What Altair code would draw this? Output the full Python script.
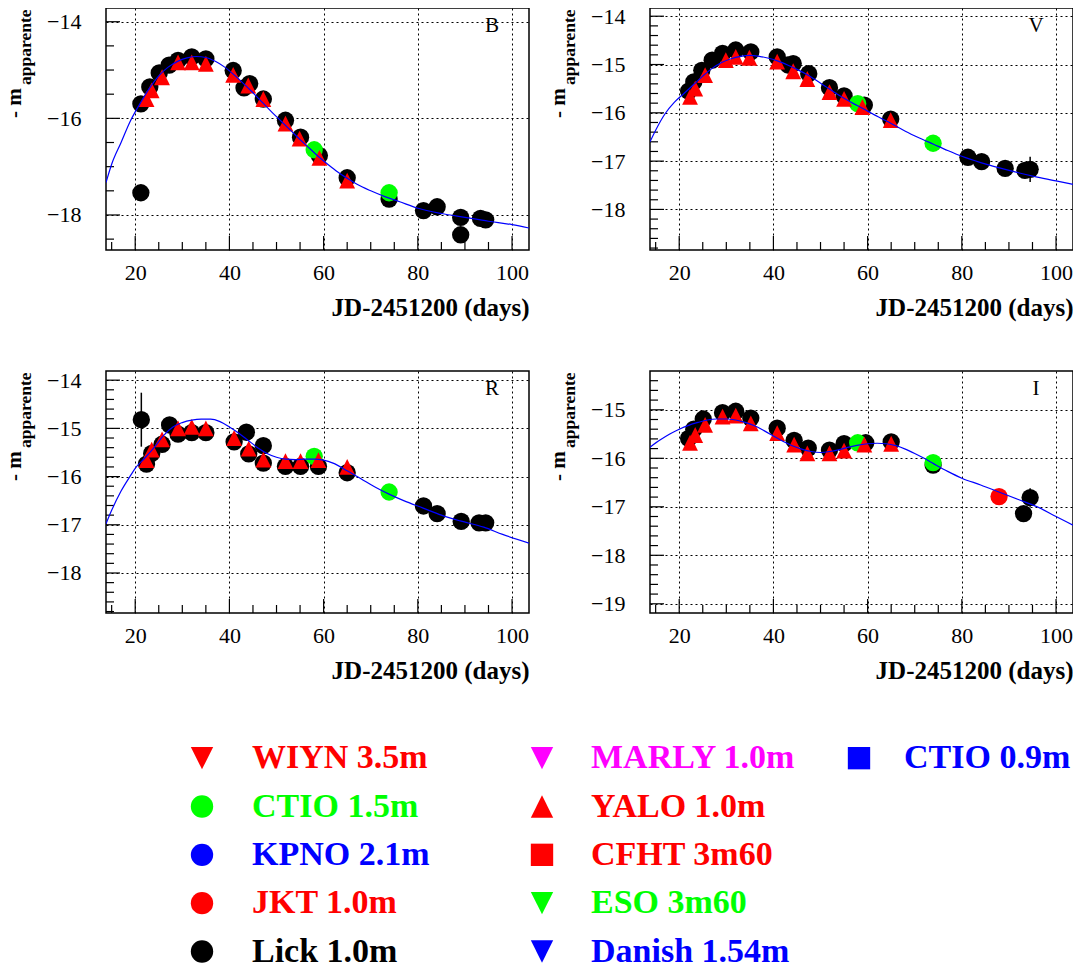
import altair as alt
import numpy as np
import pandas as pd

FONT = "Liberation Serif"
BLACK, RED, GREEN, BLUE, MAGENTA = "#000000", "#ff0000", "#00ff00", "#0000ff", "#ff00ff"
TRI_UP = "M0,-1L1,1L-1,1Z"
TRI_DOWN = "M-1,-1L1,-1L0,1Z"

X_DOMAIN = [13.8, 103.6]
X_MAJOR = [20, 40, 60, 80, 100]
X_MINOR = [15, 25, 30, 35, 45, 50, 55, 65, 70, 75, 85, 90, 95]
X_TITLE = "JD-2451200 (days)"

# ---------------- B band ----------------
B_lick_t = [21.2, 21.2, 23.1, 25.1, 27.2, 29.1, 32.0, 35.0, 40.8, 43.1, 44.3, 47.2, 51.9, 55.1, 59.1, 65.0, 73.9, 81.2, 84.1, 89.1, 89.1, 93.3, 94.4]
B_lick_m = [-15.70, -17.54, -15.35, -15.06, -14.90, -14.80, -14.73, -14.77, -15.01, -15.37, -15.28, -15.60, -16.04, -16.39, -16.77, -17.23, -17.67, -17.91, -17.83, -18.05, -18.41, -18.07, -18.10]
B_yalo_t = [22.4, 23.5, 25.7, 29.1, 32.0, 35.0, 40.8, 44.0, 47.2, 51.9, 54.9, 59.1, 65.0]
B_yalo_m = [-15.60, -15.42, -15.15, -14.84, -14.84, -14.87, -15.10, -15.32, -15.60, -16.11, -16.42, -16.82, -17.29]
B_ctio_t = [58.0, 73.9]
B_ctio_m = [-16.65, -17.54]
B_fit_t = [13.8, 15, 17, 19, 21, 23, 25, 27, 29, 31, 33, 35, 37, 39, 41, 43, 45, 47, 49, 51, 53, 55, 57, 59, 61, 63, 65, 67, 70, 73, 76, 80, 85, 90, 95, 100, 103.6]
B_fit_m = [-17.33, -16.95, -16.5, -16.05, -15.7, -15.38, -15.12, -14.94, -14.82, -14.75, -14.72, -14.74, -14.82, -14.94, -15.1, -15.28, -15.47, -15.67, -15.87, -16.06, -16.25, -16.44, -16.62, -16.8, -16.96, -17.11, -17.24, -17.36, -17.5, -17.62, -17.72, -17.86, -17.97, -18.05, -18.13, -18.2, -18.27]

# ---------------- V band ----------------
V_lick_t = [22.0, 23.1, 24.8, 27.0, 29.2, 32.0, 35.2, 40.8, 43.1, 44.2, 47.5, 51.9, 55.0, 59.3, 64.9, 81.3, 84.2, 89.2, 93.4, 94.5]
V_lick_m = [-15.55, -15.36, -15.12, -14.91, -14.77, -14.70, -14.74, -14.84, -15.01, -14.98, -15.19, -15.48, -15.65, -15.84, -16.13, -16.92, -17.01, -17.15, -17.19, -17.17]
V_yalo_t = [22.3, 23.4, 25.5, 29.9, 32.0, 34.9, 40.8, 44.2, 47.2, 51.9, 55.0, 58.9, 64.9]
V_yalo_m = [-15.67, -15.50, -15.22, -14.91, -14.84, -14.86, -14.94, -15.14, -15.30, -15.57, -15.71, -15.88, -16.15]
V_ctio_t = [57.9, 73.9]
V_ctio_m = [-15.81, -16.63]
V_err_t = [94.5]
V_err_lo = [-17.43]
V_err_hi = [-16.91]
V_fit_t = [13.8, 15, 17, 19, 21, 23, 25, 27, 29, 31, 33, 35, 37, 39, 41, 43, 45, 47, 49, 51, 53, 55, 57, 59, 61, 63, 65, 68, 71, 74, 77, 80, 84, 88, 92, 96, 100, 103.6]
V_fit_m = [-16.6, -16.36, -16.02, -15.78, -15.6, -15.42, -15.24, -15.08, -14.96, -14.88, -14.83, -14.81, -14.83, -14.87, -14.93, -15.01, -15.1, -15.2, -15.32, -15.45, -15.58, -15.7, -15.81, -15.91, -16.02, -16.12, -16.22, -16.38, -16.52, -16.65, -16.78, -16.9, -17.03, -17.14, -17.24, -17.33, -17.41, -17.48]

# ---------------- R band ----------------
R_lick_t = [21.3, 22.4, 23.5, 25.7, 27.3, 29.1, 32.0, 35.0, 41.0, 43.6, 44.1, 47.2, 47.2, 51.9, 55.1, 58.9, 65.0, 81.2, 84.1, 89.2, 93.0, 94.4]
R_lick_m = [-14.82, -15.74, -15.52, -15.33, -14.93, -15.12, -15.09, -15.09, -15.28, -15.08, -15.53, -15.36, -15.72, -15.79, -15.79, -15.79, -15.92, -16.61, -16.77, -16.93, -16.96, -16.96]
R_yalo_t = [22.4, 23.5, 25.7, 29.1, 32.0, 35.0, 41.0, 44.1, 47.2, 51.9, 55.1, 58.9, 65.0]
R_yalo_m = [-15.66, -15.44, -15.23, -15.00, -14.97, -15.00, -15.20, -15.42, -15.65, -15.68, -15.68, -15.66, -15.80]
R_ctio_t = [58.0, 73.9]
R_ctio_m = [-15.58, -16.32]
R_err_t = [21.3]
R_err_lo = [-15.38]
R_err_hi = [-14.26]
R_fit_t = [13.8, 15, 17, 19, 20, 22, 24, 26, 28, 30, 32, 34, 36, 38, 40, 42, 44, 46, 48, 50, 52, 54, 56, 58, 60, 62, 65, 68, 71, 74, 77, 81, 85, 89, 94, 98, 103.6]
R_fit_m = [-16.98, -16.7, -16.3, -15.98, -15.83, -15.62, -15.4, -15.15, -14.97, -14.88, -14.83, -14.81, -14.81, -14.86, -14.97, -15.1, -15.25, -15.4, -15.52, -15.6, -15.64, -15.65, -15.64, -15.64, -15.66, -15.72, -15.88, -16.05, -16.22, -16.37, -16.5, -16.65, -16.8, -16.92, -17.05, -17.2, -17.38]

# ---------------- I band ----------------
I_lick_t = [22.0, 23.1, 25.1, 29.2, 32.0, 35.2, 40.8, 44.4, 47.4, 51.9, 55.0, 59.6, 65.0, 73.9, 93.1, 94.5]
I_lick_m = [-15.59, -15.40, -15.19, -15.06, -15.03, -15.17, -15.38, -15.63, -15.79, -15.83, -15.70, -15.68, -15.66, -16.14, -17.14, -16.81]
I_yalo_t = [22.3, 23.4, 25.5, 29.2, 32.0, 35.2, 40.8, 44.4, 47.2, 51.9, 55.0, 59.3, 65.0]
I_yalo_m = [-15.68, -15.52, -15.31, -15.14, -15.12, -15.28, -15.48, -15.72, -15.90, -15.90, -15.84, -15.72, -15.70]
I_ctio_t = [57.9, 73.9]
I_ctio_m = [-15.68, -16.09]
I_jkt_t = [87.9]
I_jkt_m = [-16.79]
I_err_t = [94.5]
I_err_lo = [-17.0]
I_err_hi = [-16.62]
I_fit_t = [13.8, 16, 18, 20, 22, 24, 26, 28, 30, 32, 34, 36, 38, 40, 42, 44, 46, 48, 50, 52, 54, 56, 58, 60, 62, 64, 66, 68, 70, 72, 74, 77, 80, 84, 88, 92, 96, 100, 103.6]
I_fit_m = [-15.77, -15.62, -15.5, -15.4, -15.32, -15.26, -15.21, -15.19, -15.19, -15.21, -15.26, -15.33, -15.43, -15.54, -15.65, -15.74, -15.81, -15.86, -15.88, -15.86, -15.82, -15.77, -15.73, -15.7, -15.69, -15.7, -15.74, -15.81, -15.9, -16.0, -16.11, -16.27, -16.41, -16.55, -16.7, -16.85, -17.0, -17.2, -17.38]

# ---------------- legend ----------------
LEG_NAMES = ["WIYN 3.5m", "CTIO 1.5m", "KPNO 2.1m", "JKT 1.0m", "Lick 1.0m",
             "MARLY 1.0m", "YALO 1.0m", "CFHT 3m60", "ESO 3m60", "Danish 1.54m",
             "CTIO 0.9m"]
LEG_COLORS = [RED, GREEN, BLUE, RED, BLACK, MAGENTA, RED, RED, GREEN, BLUE, BLUE]
LEG_SHAPES = [TRI_DOWN, "circle", "circle", "circle", "circle",
              TRI_DOWN, TRI_UP, "square", TRI_DOWN, TRI_DOWN, "square"]
LEG_COL = [0, 0, 0, 0, 0, 1, 1, 1, 1, 1, 2]
LEG_ROW = [0, 1, 2, 3, 4, 0, 1, 2, 3, 4, 0]

W, H = 423, 242


def ticks(lo, hi, step):
    n = int(round((hi - lo) / step))
    return [round(lo + i * step, 2) for i in range(n + 1)]


def panel(band, ydom, ymajor, yminor, lick, ctio, yalo, jkt, err, fit):
    xs = alt.Scale(domain=X_DOMAIN, nice=False, zero=False)
    ys = alt.Scale(domain=ydom, nice=False, zero=False)
    xax = alt.Axis(values=X_MAJOR, grid=True, gridColor=BLACK, gridDash=[2, 3], gridWidth=1,
                   gridOpacity=1, domain=False, ticks=False, tickSize=0,
                   labelFont=FONT, labelFontSize=22, labelColor=BLACK, labelPadding=22,
                   labelBaseline="middle", labelFlush=False, labelOverlap=False,
                   title=X_TITLE, titleFont=FONT, titleFontSize=25, titleFontWeight="bold",
                   titleColor=BLACK, titleX=W, titleY=65, titleAlign="right",
                   titleBaseline="alphabetic")
    yax = alt.Axis(values=ymajor, grid=True, gridColor=BLACK, gridDash=[2, 3], gridWidth=1,
                   gridOpacity=1, domain=False, ticks=False, tickSize=0,
                   labelFont=FONT, labelFontSize=22, labelColor=BLACK, labelPadding=25,
                   labelBaseline="middle", labelFlush=False, labelOverlap=False, title="")
    X = alt.X("t:Q", scale=xs, axis=xax)
    Y = alt.Y("m:Q", scale=ys, axis=yax)

    layers = []
    # frame ticks (inside the frame)
    ymaj_df = pd.DataFrame({"m": ymajor})
    ymin_df = pd.DataFrame({"m": [v for v in yminor if v not in ymajor]})
    layers.append(alt.Chart(ymaj_df).mark_rule(color=BLACK, strokeWidth=1.2).encode(
        y=Y, x=alt.value(0), x2=alt.value(14)))
    layers.append(alt.Chart(ymin_df).mark_rule(color=BLACK, strokeWidth=1.2).encode(
        y=Y, x=alt.value(0), x2=alt.value(8)))
    layers.append(alt.Chart(pd.DataFrame({"t": X_MAJOR})).mark_rule(color=BLACK, strokeWidth=1.2).encode(
        x=X, y=alt.value(H), y2=alt.value(H - 14)))
    layers.append(alt.Chart(pd.DataFrame({"t": X_MINOR})).mark_rule(color=BLACK, strokeWidth=1.2).encode(
        x=X, y=alt.value(H), y2=alt.value(H - 8)))

    # error bars
    if err is not None:
        edf = pd.DataFrame({"t": err[0], "m": err[1], "m2": err[2]})
        layers.append(alt.Chart(edf).mark_rule(color=BLACK, strokeWidth=1.5).encode(
            x=X, y=Y, y2=alt.Y2("m2")))

    def pts(data, shape, color, size):
        df = pd.DataFrame({"t": data[0], "m": data[1]})
        return alt.Chart(df).mark_point(shape=shape, filled=True, size=size, color=color,
                                        opacity=1, strokeWidth=0).encode(x=X, y=Y)

    layers.append(pts(lick, "circle", BLACK, 300))
    layers.append(pts(ctio, "circle", GREEN, 300))
    if jkt is not None:
        layers.append(pts(jkt, "circle", RED, 300))
    layers.append(pts(yalo, TRI_UP, RED, 250))

    fdf = pd.DataFrame({"t": fit[0], "m": fit[1]})
    layers.append(alt.Chart(fdf).mark_line(color=BLUE, strokeWidth=1.2, clip=True,
                                           interpolate="monotone").encode(x=X, y=Y))

    # band label
    layers.append(alt.Chart(pd.DataFrame({"s": [band]})).mark_text(
        font=FONT, fontSize=21, color=BLACK, align="center", baseline="middle").encode(
        text="s:N", x=alt.value(386), y=alt.value(18)))
    # y title "- m_apparente"
    layers.append(alt.Chart(pd.DataFrame({"s": ["- m"]})).mark_text(
        angle=270, align="left", baseline="alphabetic", font=FONT, fontSize=21,
        fontWeight="bold", color=BLACK).encode(text="s:N", x=alt.value(-85), y=alt.value(110)))
    layers.append(alt.Chart(pd.DataFrame({"s": ["apparente"]})).mark_text(
        angle=270, align="left", baseline="alphabetic", font=FONT, fontSize=17.5,
        fontWeight="bold", color=BLACK).encode(text="s:N", x=alt.value(-75), y=alt.value(77)))

    return alt.layer(*layers).properties(width=W, height=H)


pB = panel("B", [-18.725, -13.716], [-18, -16, -14], ticks(-18.5, -14.0, 0.5),
           (B_lick_t, B_lick_m), (B_ctio_t, B_ctio_m), (B_yalo_t, B_yalo_m), None, None,
           (B_fit_t, B_fit_m))
pV = panel("V", [-18.84, -13.83], [-18, -17, -16, -15, -14], ticks(-18.8, -14.0, 0.2),
           (V_lick_t, V_lick_m), (V_ctio_t, V_ctio_m), (V_yalo_t, V_yalo_m), None,
           (V_err_t, V_err_lo, V_err_hi), (V_fit_t, V_fit_m))
pR = panel("R", [-18.83, -13.81], [-18, -17, -16, -15, -14], ticks(-18.8, -14.0, 0.2),
           (R_lick_t, R_lick_m), (R_ctio_t, R_ctio_m), (R_yalo_t, R_yalo_m), None,
           (R_err_t, R_err_lo, R_err_hi), (R_fit_t, R_fit_m))
pI = panel("I", [-19.19, -14.2], [-19, -18, -17, -16, -15], ticks(-19.0, -14.4, 0.2),
           (I_lick_t, I_lick_m), (I_ctio_t, I_ctio_m), (I_yalo_t, I_yalo_m), (I_jkt_t, I_jkt_m),
           (I_err_t, I_err_lo, I_err_hi), (I_fit_t, I_fit_m))

# legend panel (placed in the first column of the third grid row; marks overflow to the right)
LW, LH = 423, 232
SYM_X = [96, 436, 753]
TXT_X = [146, 485, 798]
leg_df = pd.DataFrame({"name": LEG_NAMES, "color": LEG_COLORS, "shape": LEG_SHAPES,
                       "col": LEG_COL, "row": LEG_ROW})
row_y = alt.Y("row:Q", scale=alt.Scale(domain=[-0.5, 4.3], reverse=True, nice=False, zero=False), axis=None)
leg_layers = []
for c in range(3):
    base = alt.Chart(leg_df).transform_filter(alt.datum.col == c)
    leg_layers.append(base.mark_point(filled=True, opacity=1, strokeWidth=0, size=500).encode(
        x=alt.value(SYM_X[c]), y=row_y,
        shape=alt.Shape("shape:N", scale=None), color=alt.Color("color:N", scale=None)))
    leg_layers.append(base.mark_text(align="left", baseline="middle", font=FONT, fontSize=34,
                                     fontWeight="bold").encode(
        x=alt.value(TXT_X[c]), y=row_y, text="name:N", color=alt.Color("color:N", scale=None)))
legend = alt.layer(*leg_layers).properties(width=LW, height=LH,
                                            view=alt.ViewBackground(stroke="transparent"))

chart = alt.concat(pB, pV, pR, pI, legend, columns=2, spacing=121, bounds="flush").properties(
    autosize=alt.AutoSizeParams(type="none"),
    padding={"left": 98, "top": 0, "right": 967, "bottom": 958},
).configure_view(stroke=BLACK, strokeWidth=1.5)

chart.save("out.html", embed_options={"renderer": "svg", "actions": False})
